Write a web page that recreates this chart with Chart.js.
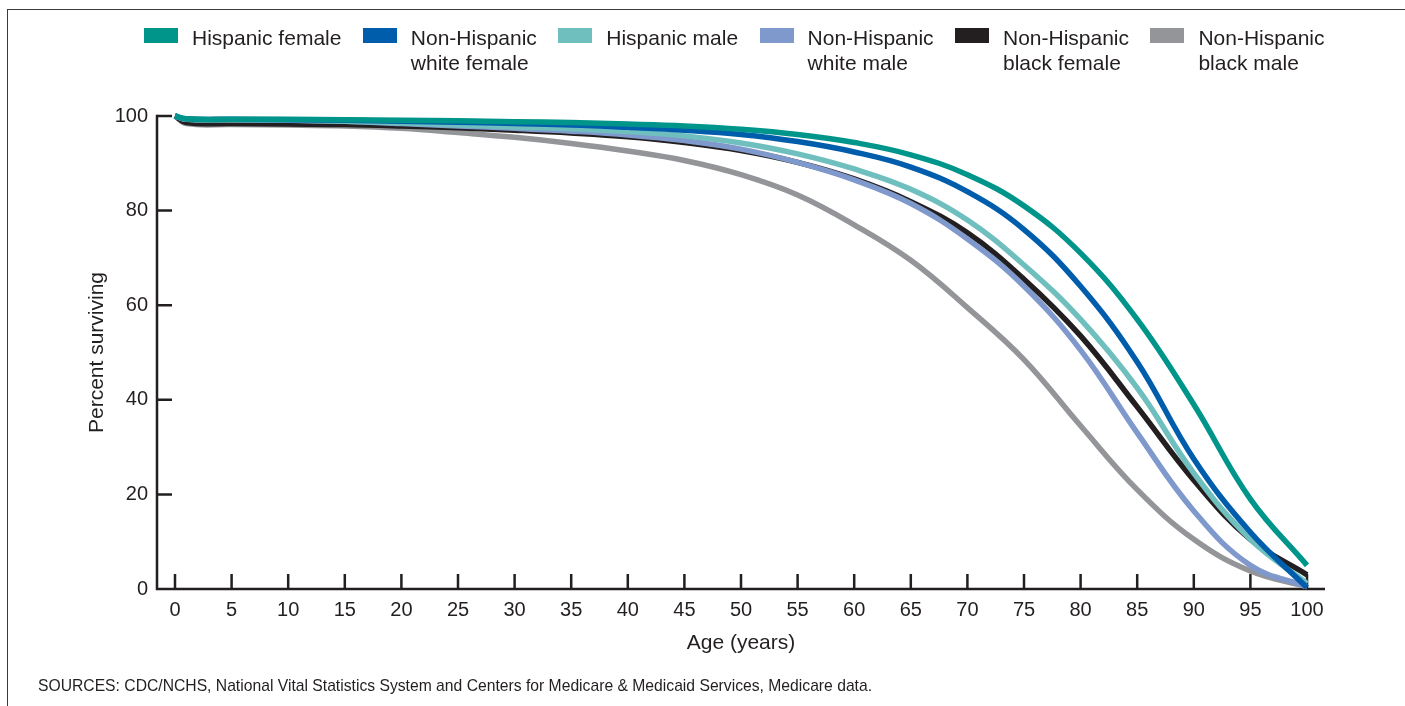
<!DOCTYPE html>
<html><head><meta charset="utf-8">
<script src="https://cdn.jsdelivr.net/npm/chart.js@4.4.1/dist/chart.umd.min.js"></script>
<style>
html,body{margin:0;padding:0;background:#fff;}
body{width:1405px;height:706px;position:relative;overflow:hidden;font-family:"Liberation Sans",Arial,sans-serif;color:#231f20;}
#frame{position:absolute;left:7px;top:9px;width:1420px;height:720px;border-top:1.5px solid #3a3a3a;border-left:1.5px solid #3a3a3a;}
#c{position:absolute;left:0;top:0;}
#legend{position:absolute;left:144px;top:25px;display:flex;gap:21.4px;}
.item{display:flex;align-items:flex-start;}
.sw{width:34px;height:15px;margin-top:3px;margin-right:14px;flex:none;}
.lbl{font-size:21px;line-height:25px;white-space:pre;}
#source{position:absolute;left:38px;top:677px;font-size:15.7px;line-height:18px;white-space:nowrap;}
</style></head>
<body>
<div id="frame"></div>
<canvas id="c" width="1405" height="706"></canvas>
<div id="legend"></div>
<div id="source">SOURCES: CDC/NCHS, National Vital Statistics System and Centers for Medicare &amp; Medicaid Services, Medicare data.</div>
<script>
const ages = [0,1,5,10,15,20,25,30,35,40,45,50,55,60,65,70,75,80,85,90,95,100];
const hispanicFemale   = [100,99.4,99.3,99.3,99.2,99.1,99.0,98.8,98.6,98.3,97.9,97.2,96.1,94.4,91.8,87.6,81.0,71.0,57.0,39.0,19.0,5.0];
const nhWhiteFemale    = [100,99.4,99.3,99.2,99.1,98.9,98.7,98.4,98.1,97.6,97.0,96.1,94.6,92.4,89.2,84.0,76.0,64.0,48.0,27.5,12.0,0.3];
const hispanicMale     = [100,99.3,99.2,99.1,98.9,98.5,98.1,97.7,97.3,96.7,95.8,94.3,92.0,88.8,84.5,78.0,68.5,57.0,42.5,24.5,10.5,1.2];
const nhWhiteMale      = [100,99.3,99.2,99.1,98.9,98.4,97.9,97.4,96.8,96.0,94.8,93.0,90.2,86.5,81.5,74.0,64.0,50.5,33.0,16.5,5.0,0.5];
const nhBlackFemale    = [100,98.6,98.4,98.3,98.2,97.9,97.5,97.0,96.4,95.6,94.4,92.7,90.2,86.7,81.9,75.3,65.5,53.5,38.5,23.0,10.5,3.0];
const nhBlackMale      = [100,98.4,98.2,98.1,97.9,97.4,96.5,95.5,94.2,92.6,90.6,87.6,83.3,77.0,69.5,59.5,48.5,34.5,21.0,10.5,3.8,0.5];

const seriesNames  = ["Hispanic female","Non-Hispanic\nwhite female","Hispanic male","Non-Hispanic\nwhite male","Non-Hispanic\nblack female","Non-Hispanic\nblack male"];
const seriesValues = [hispanicFemale,nhWhiteFemale,hispanicMale,nhWhiteMale,nhBlackFemale,nhBlackMale];
const seriesColors = ["#00958a","#005dab","#6fbfbf","#7f99cc","#231f20","#939598"];

const xTickValues = [0,5,10,15,20,25,30,35,40,45,50,55,60,65,70,75,80,85,90,95,100];
const yTickValues = [0,20,40,60,80,100];

const xTitle = "Age (years)";
const yTitle = "Percent surviving";

const FONT = "'Liberation Sans', Arial, sans-serif";
const INK = "#231f20";

// legend
const leg = document.getElementById('legend');
seriesNames.forEach((n,i)=>{
  const it = document.createElement('div'); it.className='item';
  const sw = document.createElement('div'); sw.className='sw'; sw.style.background=seriesColors[i];
  const lb = document.createElement('div'); lb.className='lbl'; lb.textContent=n;
  it.appendChild(sw); it.appendChild(lb); leg.appendChild(it);
});

const axisPlugin = {
  id:'axisPlugin',
  beforeDatasetsDraw(chart){
    const {ctx, chartArea:a, scales:{x,y}} = chart;
    ctx.save();
    ctx.strokeStyle = INK; ctx.lineWidth = 2.5; ctx.lineCap='butt';
    const x0 = a.left, yb = y.getPixelForValue(0), yt = y.getPixelForValue(100);
    ctx.beginPath();
    ctx.moveTo(x0, yt-1.25); ctx.lineTo(x0, yb+1.25);
    ctx.moveTo(x0-1.25, yb); ctx.lineTo(a.right, yb);
    ctx.stroke();
    ctx.beginPath();
    yTickValues.forEach(v=>{ if(v===0) return; const py=y.getPixelForValue(v); ctx.moveTo(x0,py); ctx.lineTo(x0+15,py); });
    xTickValues.forEach(v=>{ const px=x.getPixelForValue(v); ctx.moveTo(px,yb); ctx.lineTo(px,yb-15); });
    ctx.stroke();
    ctx.restore();
  }
};

new Chart(document.getElementById('c'), {
  type:'line',
  data:{
    datasets: seriesNames.map((n,i)=>({
      label:n.replace('\n',' '),
      data: ages.map((a,j)=>({x:a,y:seriesValues[i][j]})),
      borderColor: seriesColors[i],
      backgroundColor: seriesColors[i],
      borderWidth:5.5,
      pointRadius:0,
      tension:0.4,
      borderCapStyle:'butt',
      borderJoinStyle:'round',
      fill:false,
      clip:false
    }))
  },
  options:{
    responsive:false, animation:false, devicePixelRatio:1,
    layout:{padding:{top:116,right:80,bottom:37,left:0}},
    plugins:{legend:{display:false},tooltip:{enabled:false}},
    scales:{
      x:{type:'linear',min:-1.59,max:101.59,
        grid:{display:false,drawTicks:false}, border:{display:false},
        ticks:{padding:9,font:{size:20,family:FONT},color:INK,autoSkip:false,maxRotation:0},
        afterBuildTicks:s=>{ s.ticks = xTickValues.map(v=>({value:v})); },
        afterFit:s=>{ s.height = 80; },
        title:{display:true,text:xTitle,color:INK,font:{size:21,family:FONT},padding:{top:0,bottom:13.4}}
      },
      y:{type:'linear',min:0,max:100,
        grid:{display:false,drawTicks:false}, border:{display:false},
        ticks:{padding:9,font:{size:20,family:FONT},color:INK},
        afterBuildTicks:s=>{ s.ticks = yTickValues.map(v=>({value:v})); },
        afterFit:s=>{ s.width = 157; },
        title:{display:true,text:yTitle,color:INK,font:{size:21,family:FONT},padding:{top:84.4,bottom:0}}
      }
    }
  },
  plugins:[axisPlugin]
});
</script>
</body></html>
